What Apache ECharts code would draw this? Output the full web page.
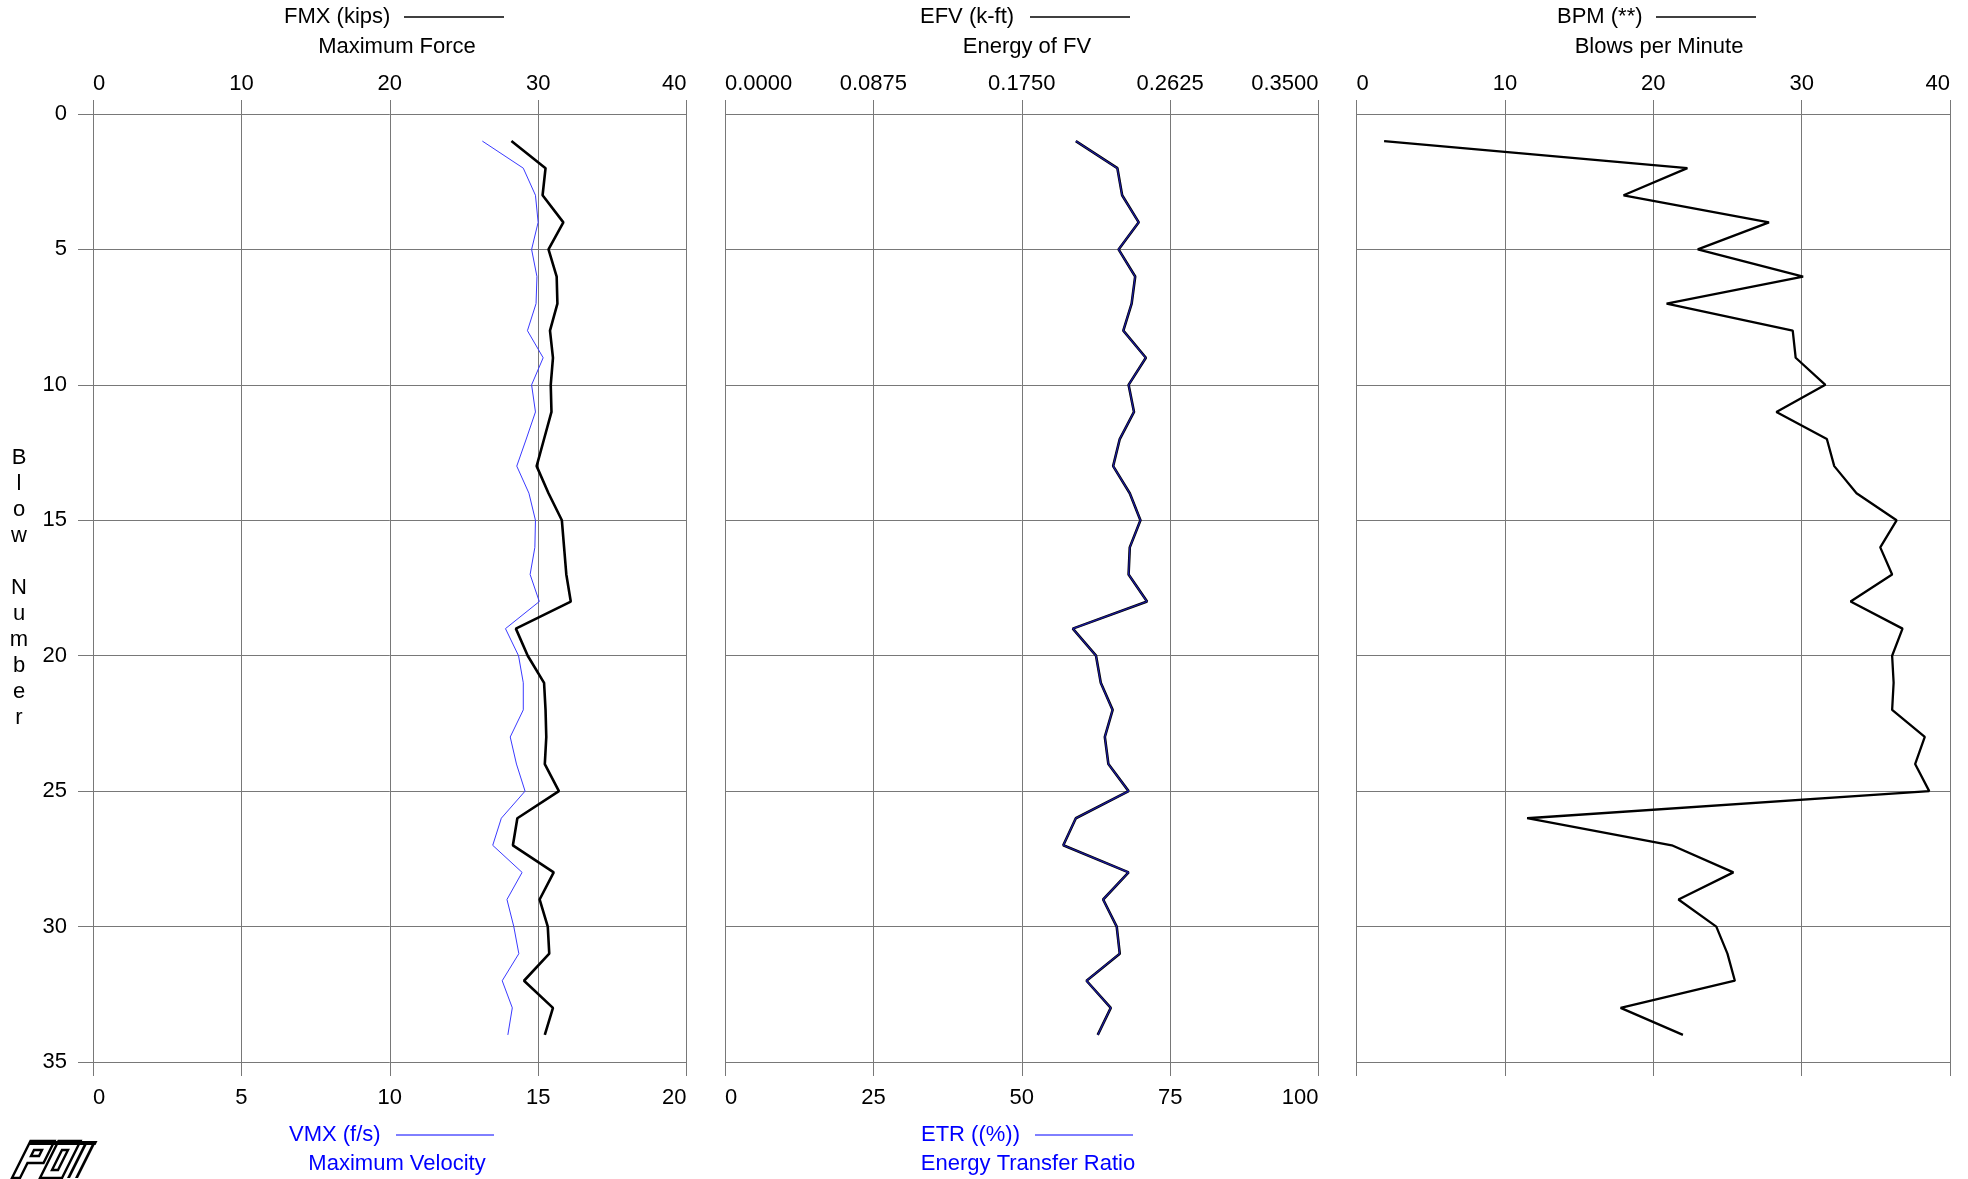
<!DOCTYPE html>
<html>
<head>
<meta charset="utf-8">
<style>
  html, body { margin: 0; padding: 0; background: #ffffff; }
  #chart { width: 1968px; height: 1179px; }
</style>
<script src="https://cdn.jsdelivr.net/npm/echarts@6/dist/echarts.min.js"></script>
</head>
<body>
<div id="chart"></div>
<script>
// Blow-by-blow dynamic monitoring record
const blows = [1, 2, 3, 4, 5, 6, 7, 8, 9, 10, 11, 12, 13, 14, 15, 16, 17,
               18, 19, 20, 21, 22, 23, 24, 25, 26, 27, 28, 29, 30, 31, 32, 33, 34];

// Maximum force (kips)
const fmx = [28.2, 30.5, 30.3, 31.7, 30.7, 31.25, 31.3, 30.8, 31.0, 30.85, 30.9, 30.4,
             29.9, 30.7, 31.6, 31.75, 31.9, 32.2, 28.5, 29.3, 30.4, 30.5, 30.55, 30.45,
             31.4, 28.6, 28.3, 31.05, 30.1, 30.65, 30.75, 29.05, 31.0, 30.45];

// Maximum velocity (f/s)
const vmx = [13.12, 14.5, 14.91, 15.0, 14.78, 14.96, 14.93, 14.64, 15.17, 14.78, 14.91, 14.6,
             14.28, 14.69, 14.91, 14.89, 14.73, 15.04, 13.9, 14.34, 14.5, 14.5, 14.06, 14.27,
             14.56, 13.76, 13.47, 14.46, 13.95, 14.18, 14.35, 13.79, 14.13, 13.98];

// Energy of FV (k-ft)
const efv = [0.2069, 0.2314, 0.2342, 0.2440, 0.2321, 0.2419, 0.2398, 0.2349, 0.2482, 0.2380,
             0.2412, 0.2328, 0.2289, 0.2387, 0.2450, 0.2387, 0.2380, 0.2489, 0.2051, 0.2188,
             0.2216, 0.2286, 0.2240, 0.2261, 0.2380, 0.2069, 0.1995, 0.2380, 0.2230, 0.2310,
             0.2328, 0.2132, 0.2275, 0.2198];

// Energy transfer ratio (%)
const etr = [59.1, 66.1, 66.9, 69.7, 66.3, 69.1, 68.5, 67.1, 70.9, 68.0, 68.9, 66.5,
             65.4, 68.2, 70.0, 68.2, 68.0, 71.1, 58.6, 62.5, 63.3, 65.3, 64.0, 64.6,
             68.0, 59.1, 57.0, 68.0, 63.7, 66.0, 66.5, 60.9, 65.0, 62.8];

// Blows per minute
const bpm = [1.86, 22.3, 18.0, 27.8, 23.0, 30.1, 20.9, 29.4, 29.6, 31.6, 28.3, 31.7,
             32.2, 33.7, 36.4, 35.3, 36.1, 33.3, 36.8, 36.1, 36.2, 36.1, 38.3, 37.65,
             38.6, 11.5, 21.25, 25.4, 21.7, 24.25, 25.0, 25.5, 17.8, 22.0];

// Axis ranges: [min, max, interval]
const fmxRange = [0, 40, 10];
const vmxRange = [0, 20, 5];
const efvRange = [0, 0.35, 0.0875];
const etrRange = [0, 100, 25];
const bpmRange = [0, 40, 10];
const blowRange = [0, 35, 5];

const FONT = '"Liberation Sans", Arial, sans-serif';
const GRID_COLOR = '#787878';
const BLUE = '#0000ff';

const PANEL_TOP = 114;
const PANEL_H = 948;
const PANEL_W = 593.5;
const panelLefts = [93, 725, 1356.5];

function xAxisCfg(gridIndex, position, range, showLabels, showSplit, fmt) {
  return {
    type: 'value',
    gridIndex: gridIndex,
    position: position,
    min: range[0],
    max: range[1],
    interval: range[2],
    axisLine: { show: false },
    axisTick: { show: true, length: 14, lineStyle: { color: GRID_COLOR, width: 1 } },
    axisLabel: {
      show: showLabels,
      margin: position === 'top' ? 19 : 25,
      fontSize: 22,
      fontFamily: FONT,
      color: '#000',
      alignMinLabel: 'left',
      alignMaxLabel: 'right',
      formatter: fmt
    },
    splitLine: { show: showSplit, lineStyle: { color: GRID_COLOR, width: 1 } }
  };
}

function pairs(values) {
  return blows.map((b, i) => [values[i], b]);
}

// Shear helper for the small slanted logo
function logoPts(list) {
  const ox = 12, oy = 1141, h = 37, k = 0.5;
  return list.map(p => [ox + p[0] + (h - p[1]) * k, oy + p[1]]);
}

const legendFont = '22px ' + FONT;

function label(text, x, y, color, align) {
  return {
    type: 'text', x: x, y: y, silent: true,
    style: { text: text, fill: color, font: legendFont, align: align || 'left', verticalAlign: 'middle' }
  };
}
function swatch(x1, x2, y, color, w) {
  return {
    type: 'line', silent: true,
    shape: { x1: x1, y1: y, x2: x2, y2: y },
    style: { stroke: color, lineWidth: w }
  };
}
function logoPoly(points, fill) {
  return {
    type: 'polygon', silent: true,
    shape: { points: logoPts(points) },
    style: fill ? { fill: '#000' } : { fill: 'none', stroke: '#000', lineWidth: 2.4 }
  };
}

const option = {
  animation: false,
  backgroundColor: '#ffffff',
  grid: panelLefts.map(l => ({ left: l, top: PANEL_TOP, width: PANEL_W, height: PANEL_H })),
  xAxis: [
    xAxisCfg(0, 'top', fmxRange, true, true),
    xAxisCfg(0, 'bottom', vmxRange, true, false),
    xAxisCfg(1, 'top', efvRange, true, true, v => Number(v).toFixed(4)),
    xAxisCfg(1, 'bottom', etrRange, true, false),
    xAxisCfg(2, 'top', bpmRange, true, true),
    xAxisCfg(2, 'bottom', bpmRange, false, false)
  ],
  yAxis: [0, 1, 2].map(g => ({
    type: 'value',
    gridIndex: g,
    inverse: true,
    min: blowRange[0],
    max: blowRange[1],
    interval: blowRange[2],
    axisLine: { show: false },
    axisTick: { show: g === 0, length: 15, lineStyle: { color: GRID_COLOR, width: 1 } },
    axisLabel: { show: g === 0, margin: 26, fontSize: 22, fontFamily: FONT, color: '#000' },
    splitLine: { show: true, lineStyle: { color: GRID_COLOR, width: 1 } }
  })),
  series: [
    {
      name: 'VMX (f/s)', type: 'line', xAxisIndex: 1, yAxisIndex: 0,
      data: pairs(vmx), symbol: 'none', z: 3,
      lineStyle: { color: '#3a3aff', width: 1 }
    },
    {
      name: 'FMX (kips)', type: 'line', xAxisIndex: 0, yAxisIndex: 0,
      data: pairs(fmx), symbol: 'none', z: 4,
      lineStyle: { color: '#000000', width: 2.6 }
    },
    {
      name: 'EFV (k-ft)', type: 'line', xAxisIndex: 2, yAxisIndex: 1,
      data: pairs(efv), symbol: 'none', z: 3,
      lineStyle: { color: '#000000', width: 2.6 }
    },
    {
      name: 'ETR ((%))', type: 'line', xAxisIndex: 3, yAxisIndex: 1,
      data: pairs(etr), symbol: 'none', z: 4,
      lineStyle: { color: '#1a1aa0', width: 1.2 }
    },
    {
      name: 'BPM (**)', type: 'line', xAxisIndex: 4, yAxisIndex: 2,
      data: pairs(bpm), symbol: 'none', z: 4,
      lineStyle: { color: '#000000', width: 2.3 }
    }
  ],
  graphic: [
    // top captions
    label('FMX (kips)', 284, 17, '#000'),
    swatch(404, 504, 17, '#000', 1.5),
    label('Maximum Force', 397, 47, '#000', 'center'),
    label('EFV (k-ft)', 920, 17, '#000'),
    swatch(1030, 1130, 17, '#000', 1.5),
    label('Energy of FV', 1027, 47, '#000', 'center'),
    label('BPM (**)', 1557, 17, '#000'),
    swatch(1656, 1756, 17, '#000', 1.5),
    label('Blows per Minute', 1659, 47, '#000', 'center'),
    // bottom captions
    label('VMX (f/s)', 289, 1135, BLUE),
    swatch(396, 494, 1135, BLUE, 1),
    label('Maximum Velocity', 397, 1164, BLUE, 'center'),
    label('ETR ((%))', 921, 1135, BLUE),
    swatch(1035, 1133, 1135, BLUE, 1),
    label('Energy Transfer Ratio', 1028, 1164, BLUE, 'center'),
    // vertical y-axis title
    {
      type: 'text', x: 19, y: 588, silent: true,
      style: {
        text: 'B\nl\no\nw\n\nN\nu\nm\nb\ne\nr',
        fill: '#000', font: legendFont, align: 'center', verticalAlign: 'middle', lineHeight: 26
      }
    },
    // logo
    logoPoly([[0, 0], [67, 0], [67, 4], [0, 4]], true),
    logoPoly([[0, 0], [24, 0], [24, 22], [8, 22], [8, 37], [0, 37]]),
    logoPoly([[8, 9], [16, 9], [16, 15], [8, 15]]),
    logoPoly([[28, 0], [50, 0], [50, 37], [28, 37]]),
    logoPoly([[36, 9], [42, 9], [42, 29], [36, 29]]),
    logoPoly([[55, 0], [58, 0], [58, 37], [55, 37]], true),
    logoPoly([[63, 0], [66, 0], [66, 37], [63, 37]], true)
  ]
};

const chart = echarts.init(document.getElementById('chart'), null, { renderer: 'canvas' });
chart.setOption(option);
</script>
</body>
</html>
